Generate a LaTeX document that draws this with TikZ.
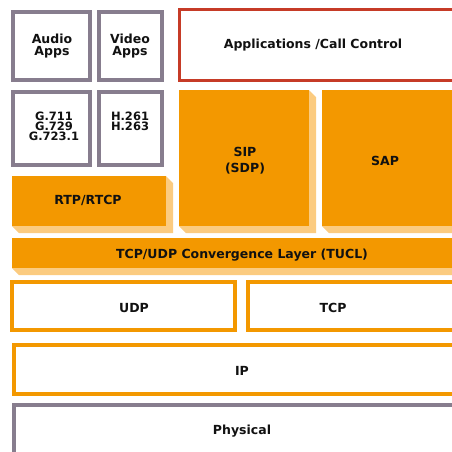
\documentclass[tikz,border=0pt]{standalone}
\usepackage{fontspec}
\setmainfont{DejaVu Sans}
\usetikzlibrary{backgrounds}
\definecolor{stackorange}{HTML}{F39800}
\definecolor{stackshade}{HTML}{FBCB80}
\definecolor{stackgray}{HTML}{877D8E}
\definecolor{stackred}{HTML}{C63B27}
\definecolor{stacktext}{HTML}{111111}

\begin{document}
\begin{tikzpicture}[x=1pt,y=-1pt,
  grayframe/.style={draw=stackgray, line width=3.5pt},
  redframe/.style={draw=stackred, line width=3pt},
  orframe/.style={draw=stackorange, line width=3.5pt},
  orblock/.style={fill=stackorange},
  orshade/.style={fill=stackshade},
  lbl/.style={font=\fontsize{12.5}{12.5}\selectfont\bfseries, text=stacktext, align=center, inner sep=0pt},
  codec/.style={lbl, font=\fontsize{11.5}{10}\selectfont\bfseries, anchor=north}]
\clip (0,0) rectangle (452,451);
\fill[white] (0,0) rectangle (452,451);

% Anwendungen und Codecs (graue Rahmen)
\draw[grayframe] (13,12) rectangle (90,80);
\draw[grayframe] (99,12) rectangle (162,80);
\draw[grayframe] (13,92) rectangle (90,165);
\draw[grayframe] (99,92) rectangle (162,165);
\node[lbl] (audioapps) at (52,46) {Audio\\Apps};
\node[lbl] (videoapps) at (130,46) {Video\\Apps};
\node[codec] (gcodecs) at (54,112) {G.711\\G.729\\G.723.1};
\node[codec] (hcodecs) at (130,112) {H.261\\H.263};

% Anwendungen / Rufsteuerung
\draw[redframe] (179,9) rectangle (470,80);
\node[lbl] (callctrl) at (313,45) {Applications /Call Control};

% orange Bloecke mit Schatten
\fill[orshade] (166,176) -- (173,183) -- (173,233) -- (19,233) -- (12,226) -- (166,226) -- cycle;
\fill[orshade] (309,90) -- (316,97) -- (316,233) -- (186,233) -- (179,226) -- (309,226) -- cycle;
\fill[orshade] (322,226) -- (329,233) -- (470,233) -- (470,226) -- cycle;
\fill[orshade] (12,268) -- (19,275) -- (470,275) -- (470,268) -- cycle;
\fill[orblock] (12,176) rectangle (166,226);
\fill[orblock] (179,90) rectangle (309,226);
\fill[orblock] (322,90) rectangle (470,226);
\fill[orblock] (12,238) rectangle (470,268);
\node[lbl] (rtp) at (88,200) {RTP/RTCP};
\node[lbl, font=\fontsize{12.5}{16}\selectfont\bfseries] (sip) at (245,161) {SIP\\(SDP)};
\node[lbl] (sap) at (385,161) {SAP};
\node[lbl] (tucl) at (242,255) {TCP/UDP Convergence Layer (TUCL)};

% Transport und Netz
\draw[orframe] (12,282) rectangle (235,330);
\draw[orframe] (248,282) rectangle (470,330);
\draw[orframe] (14,345) rectangle (470,394);
\node[lbl] (udp) at (134,308) {UDP};
\node[lbl] (tcp) at (333,308) {TCP};
\node[lbl] (ip) at (242,371) {IP};

% Bitübertragung
\draw[grayframe] (14,405) rectangle (470,470);
\node[lbl] (physical) at (242,431) {Physical};
\end{tikzpicture}
\end{document}
